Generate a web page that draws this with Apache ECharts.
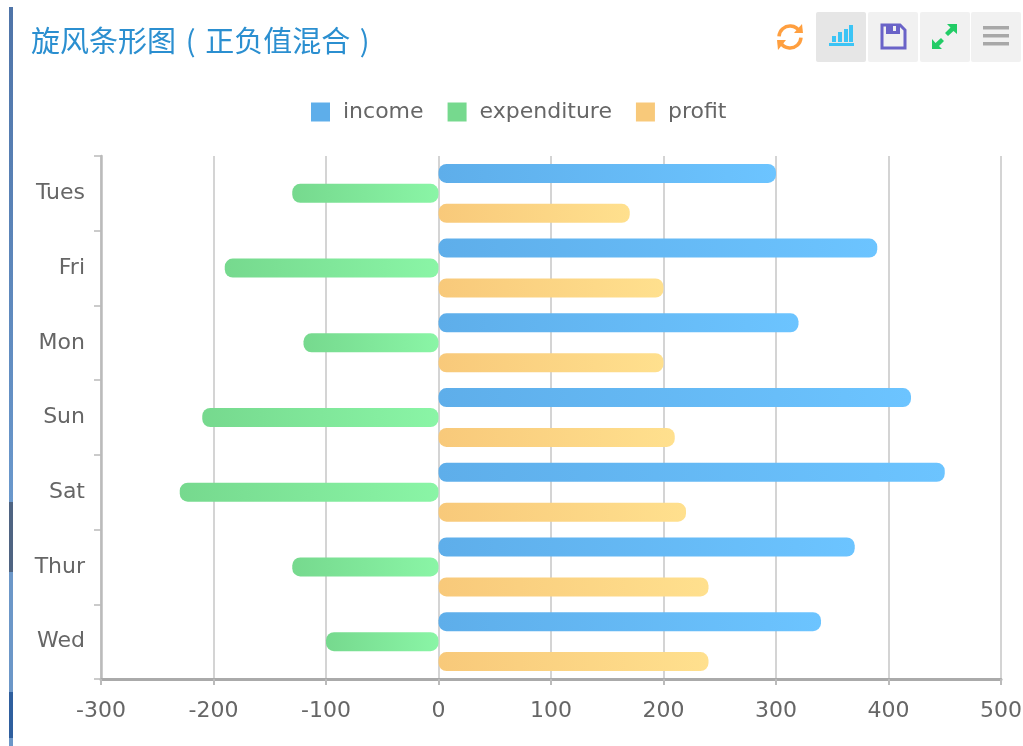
<!DOCTYPE html>
<html>
<head>
<meta charset="utf-8">
<title>旋风条形图</title>
<style>
  html, body { margin: 0; padding: 0; background: #fff; }
  #main { width: 1023px; height: 746px; }
</style>
<script src="https://cdn.jsdelivr.net/npm/echarts@6/dist/echarts.min.js"></script>
</head>
<body>
<div id="main"></div>
<script>
var categories = ['Tues', 'Fri', 'Mon', 'Sun', 'Sat', 'Thur', 'Wed'];
var income = [300, 390, 320, 420, 450, 370, 340];
var expenditure = [-130, -190, -120, -210, -230, -130, -100];
var profit = [170, 200, 200, 210, 220, 240, 240];

var myChart = echarts.init(document.getElementById('main'));

function grad(from, to) {
  return new echarts.graphic.LinearGradient(0, 0, 1, 0, [
    { offset: 0, color: from },
    { offset: 1, color: to }
  ]);
}

function barSeries(name, data, from, to) {
  return {
    name: name,
    type: 'bar',
    data: data,
    barWidth: 19,
    barGap: '5%',
    itemStyle: { color: grad(from, to), borderRadius: 8 }
  };
}

// left strip of the page
var stripTop = new echarts.graphic.LinearGradient(0, 0, 0, 1, [
  { offset: 0, color: '#4f74a8' },
  { offset: 1, color: '#6a98cc' }
]);
var strips = [
  [7, 495, stripTop],
  [502, 70, '#4f6482'],
  [572, 120, '#6c97c8'],
  [692, 46, '#2f5f9e'],
  [738, 8, '#6c97c8']
];
var tiles = [816, 868, 920, 971];

var graphics = [];

function add(type, shape, style) {
  graphics.push({ type: type, shape: shape, style: style, silent: true });
}

strips.forEach(function (s) {
  add('rect', { x: 9, y: s[0], width: 4, height: s[1] }, { fill: s[2] });
});
tiles.forEach(function (x, i) {
  add('rect', { x: x, y: 12, width: 50, height: 50, r: 2 }, { fill: i === 0 ? '#e6e6e6' : '#f1f1f1' });
});

// refresh
add('arc', { cx: 790, cy: 37, r: 11, startAngle: Math.PI * 1.02, endAngle: Math.PI * 1.85 }, { fill: 'none', stroke: '#ff9f3f', lineWidth: 3.5 });
add('polygon', { points: [[794, 33], [803, 33], [802, 24]] }, { fill: '#ff9f3f' });
add('arc', { cx: 790, cy: 37, r: 11, startAngle: Math.PI * 0.02, endAngle: Math.PI * 0.85 }, { fill: 'none', stroke: '#ff9f3f', lineWidth: 3.5 });
add('polygon', { points: [[777, 40], [786, 40], [778, 50]] }, { fill: '#ff9f3f' });
// bars icon
[[832, 36, 4, 6], [838, 32, 4, 10], [844, 29, 4, 13], [849, 25, 4, 17]].forEach(function (b) {
  add('rect', { x: b[0], y: b[1], width: b[2], height: b[3] }, { fill: '#3cc4f5' });
});
add('rect', { x: 829, y: 43, width: 25, height: 3 }, { fill: '#3cc4f5' });
// save icon
add('polygon', { points: [[882, 25], [900, 25], [905, 30], [905, 48], [882, 48]] }, { fill: 'none', stroke: '#6a63c8', lineWidth: 3 });
add('rect', { x: 886, y: 25, width: 14, height: 9 }, { fill: '#6a63c8' });
add('rect', { x: 893, y: 26, width: 3, height: 5 }, { fill: '#f1f1f1' });
// expand icon
add('polygon', { points: [[947, 24], [957, 24], [957, 34], [953.5, 31], [948, 36], [945, 33], [950.5, 27.5]] }, { fill: '#22cc66' });
add('polygon', { points: [[932, 39], [932, 49], [942, 49], [939, 46], [944, 41], [941, 38], [935.5, 43]] }, { fill: '#22cc66' });
// menu icon
[26, 34, 42].forEach(function (y) {
  add('rect', { x: 983, y: y, width: 26, height: 3.5 }, { fill: '#a8a8a8' });
});

var option = {
  backgroundColor: '#fff',
  animation: false,
  title: {
    text: '旋风条形图\u2004(\u2004正负值混合\u2004)',
    left: 31,
    top: 26,
    padding: 0,
    textStyle: {
      color: '#2b8fd0',
      fontSize: 29,
      fontWeight: 'normal',
      fontFamily: 'Noto Sans CJK SC'
    }
  },
  legend: {
    top: 96,
    left: 306,
    itemWidth: 19,
    itemHeight: 19,
    itemGap: 24,
    icon: 'rect',
    data: [
      { name: 'income', itemStyle: { color: '#5eaeea' } },
      { name: 'expenditure', itemStyle: { color: '#76d98e' } },
      { name: 'profit', itemStyle: { color: '#f8c97a' } }
    ],
    textStyle: { color: '#666', fontSize: 22, fontFamily: 'DejaVu Sans', padding: [0, 0, 0, 8] }
  },
  grid: { left: 101, right: 22, top: 156, bottom: 67, outerBoundsMode: 'none' },
  xAxis: {
    type: 'value',
    position: 'bottom',
    min: -300,
    max: 500,
    interval: 100,
    axisLine: { show: true, lineStyle: { color: '#aaa', width: 3 } },
    axisTick: { show: true, length: 6, lineStyle: { color: '#bbb', width: 2 } },
    axisLabel: { color: '#666', fontSize: 22, margin: 21, fontFamily: 'DejaVu Sans' },
    splitLine: { show: true, lineStyle: { color: '#d4d4d4', width: 2 } }
  },
  yAxis: {
    type: 'category',
    inverse: true,
    data: categories,
    axisLine: { show: true, onZero: false, lineStyle: { color: '#bbb', width: 2.5 } },
    axisTick: { show: true, length: 7, lineStyle: { color: '#bbb', width: 1.5 } },
    axisLabel: { color: '#666', fontSize: 22, margin: 16, fontFamily: 'DejaVu Sans' }
  },
  series: [
    barSeries('income', income, '#5eaeea', '#6cc4ff'),
    barSeries('expenditure', expenditure, '#76d98e', '#8af5a6'),
    barSeries('profit', profit, '#f8c97a', '#ffe08e')
  ],
  graphic: graphics
};

myChart.setOption(option);
</script>
</body>
</html>
